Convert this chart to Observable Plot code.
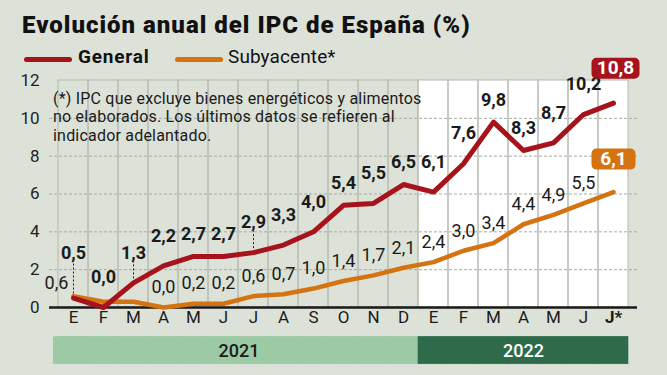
<!DOCTYPE html>
<html><head><meta charset="utf-8">
<script src="https://cdn.jsdelivr.net/npm/d3@7"></script>
<script src="https://cdn.jsdelivr.net/npm/@observablehq/plot@0.6"></script>
<style>
html,body{margin:0;padding:0;background:#dde2d9;}
#wrap{position:relative;width:667px;height:375px;overflow:hidden;font-family:Roboto,"Noto Sans",sans-serif;color:#111;}
#chart{position:absolute;left:0;top:0;}
#title{position:absolute;left:22px;top:13px;font-size:24px;line-height:24px;font-weight:900;letter-spacing:1px;white-space:nowrap;}
.leg{position:absolute;top:47px;font-size:19px;line-height:19px;white-space:nowrap;}
.sw{position:absolute;top:57px;height:4.5px;width:48px;border-radius:3px;}
#note{position:absolute;left:53px;top:89.5px;font-size:16px;line-height:18.5px;letter-spacing:0.2px;color:#1a1a1a;}
</style></head>
<body><div id="wrap">
<div id="chart"></div>
<div id="title"></div>
<div class="sw" id="sw1" style="left:24px"></div><div class="leg" id="leg1" style="left:78px;font-weight:bold;letter-spacing:0.8px"></div>
<div class="sw" id="sw2" style="left:175px"></div><div class="leg" id="leg2" style="left:228px;letter-spacing:0.1px"></div>
<div id="note"></div>
</div>
<script>
const titleText = "Evolución anual del IPC de España (%)";
const seriesNames = ["General", "Subyacente*"];
const noteLines = ["(*) IPC que excluye bienes energéticos y alimentos", "no elaborados. Los últimos datos se refieren al", "indicador adelantado."];
const months = ["E","F","M","A","M","J","J","A","S","O","N","D","E","F","M","A","M","J","J*"];
const general = [0.5,0.0,1.3,2.2,2.7,2.7,2.9,3.3,4.0,5.4,5.5,6.5,6.1,7.6,9.8,8.3,8.7,10.2,10.8];
const subyacente = [0.6,0.3,0.3,0.0,0.2,0.2,0.6,0.7,1.0,1.4,1.7,2.1,2.4,3.0,3.4,4.4,4.9,5.5,6.1];
const subLabelHidden = [1, 2];
const leaderMonths = [0, 2, 6];
const years = ["2021", "2022"];
const yearMonthCount = [12, 7];
const yTicks = [0,2,4,6,8,10,12];

const RED = "#a6131b", ORANGE = "#d4730f", INK = "#1a1a1a";
const YEAR_COLORS = ["#9ccaa4", "#2e6b4b"];

document.getElementById("title").textContent = titleText;
document.getElementById("leg1").textContent = seriesNames[0];
document.getElementById("leg2").textContent = seriesNames[1];
document.getElementById("sw1").style.background = RED;
document.getElementById("sw2").style.background = ORANGE;
document.getElementById("note").innerHTML = noteLines.join("<br>");

const yearOf = [];
years.forEach((y, k) => { for (let j = 0; j < yearMonthCount[k]; j++) yearOf.push(y); });
const rows = months.map((m, i) => ({i, m, g: general[i], s: subyacente[i], year: yearOf[i]}));
const last = rows.length - 1;
const fmt = v => v.toFixed(1).replace(".", ",");

const W = 667, H = 375, ML = 49, MR = 30, MT = 80, MB = 68;
const bw = (W - ML - MR) / months.length;

// label lift: rising segment ahead or leader line -> higher
const lift = d => d.i === 0 ? -45 : ((leaderMonths.includes(d.i) || (d.i < last && general[d.i + 1] - d.g >= 0.5)) ? -30 : -22);

const badge = (w, h, r) => ({draw(ctx) {
  const x0 = -w/2, y0 = -h/2, x1 = w/2, y1 = h/2;
  ctx.moveTo(x0 + r, y0); ctx.lineTo(x1 - r, y0); ctx.arcTo(x1, y0, x1, y0 + r, r);
  ctx.lineTo(x1, y1 - r); ctx.arcTo(x1, y1, x1 - r, y1, r);
  ctx.lineTo(x0 + r, y1); ctx.arcTo(x0, y1, x0, y1 - r, r);
  ctx.lineTo(x0, y0 + r); ctx.arcTo(x0, y0, x0 + r, y0, r); ctx.closePath();
}});

const yearLabels = years.map((y, k) => {
  const start = yearMonthCount.slice(0, k).reduce((a, b) => a + b, 0);
  const mid = start + (yearMonthCount[k] - 1) / 2;
  return {year: y, i: Math.floor(mid), frac: mid - Math.floor(mid), k};
});

const FF = "Roboto, sans-serif";
const labelStyle = {fontSize: 18, fill: INK, fontFamily: FF};

const marks = [
  Plot.barY(rows.filter(d => d.year === years[1]), {x: "i", y1: 0, y2: 12, fill: "white", inset: 0}),
  Plot.ruleY(yTicks.filter(t => t > 0 && t < 12), {y: d => d, stroke: "#a7aba3", strokeDasharray: "3,2", strokeWidth: 1}),
  Plot.barY(rows, {x: "i", y1: 0, y2: 12, fill: "none", stroke: "#b6bab1", strokeWidth: 1, inset: 0}),
  // year bands
  Plot.barY(rows, {x: "i", y1: -1.55, y2: -3.0, fill: "year", stroke: "year", strokeWidth: 0.6, inset: 0}),
  Plot.barY(rows.filter(d => d.i === 0), {x: "i", y1: -1.55, y2: -3.0, fill: "year", inset: 0, insetLeft: -5}),
  Plot.text(yearLabels, {x: "i", y: -2.32, text: "year", fontSize: 18, fontWeight: 500,
    fill: d => d.k === 0 ? INK : "white", fontFamily: FF}),
  Plot.ruleY([0], {stroke: INK, strokeWidth: 2.5}),
  // leaders
  Plot.ruleX(rows.filter(d => leaderMonths.includes(d.i)), {x: "i", y1: "g", y2: d => d.g + (d.i === 0 ? 1.9 : 1.1), stroke: INK, strokeWidth: 1, strokeDasharray: "2,2"}),
  // lines
  Plot.lineY(rows, {x: "i", y: "s", stroke: ORANGE, strokeWidth: 4.5, strokeLinejoin: "round"}),
  Plot.lineY(rows, {x: "i", y: "g", stroke: RED, strokeWidth: 5, strokeLinejoin: "round"}),
  // general labels
  ...[-45, -30, -22].map(off => Plot.text(rows.filter(d => d.i !== last && lift(d) === off),
    {x: "i", y: "g", text: d => fmt(d.g), dy: off, fontWeight: "bold", ...labelStyle})),
  // subyacente labels
  Plot.text(rows.filter(d => d.i !== 0 && d.i !== last && !subLabelHidden.includes(d.i)),
    {x: "i", y: "s", text: d => fmt(d.s), dy: -20, ...labelStyle}),
  Plot.text(rows.filter(d => d.i === 0), {x: "i", y: "s", text: d => fmt(d.s), dx: -17, dy: -13, ...labelStyle}),
  // badges
  Plot.dot(rows.filter(d => d.i === last), {x: "i", y: "g", symbol: badge(48, 21, 5), r: 5, fill: RED, stroke: null, dx: 2, dy: -35}),
  Plot.text(rows.filter(d => d.i === last), {x: "i", y: "g", text: d => fmt(d.g), dx: 2, dy: -35, fontSize: 19, fontWeight: "bold", fill: "white", fontFamily: FF}),
  Plot.dot(rows.filter(d => d.i === last), {x: "i", y: "s", symbol: badge(44, 21, 5), r: 5, fill: ORANGE, stroke: null, dx: 0, dy: -33}),
  Plot.text(rows.filter(d => d.i === last), {x: "i", y: "s", text: d => fmt(d.s), dx: 0, dy: -33, fontSize: 19, fontWeight: "bold", fill: "white", fontFamily: FF}),
  // x labels
  Plot.text(rows.filter(d => d.i !== last), {x: "i", frameAnchor: "bottom", text: "m", dy: 15, fontSize: 17, fill: INK, fontFamily: FF}),
  Plot.text(rows.filter(d => d.i === last), {x: "i", frameAnchor: "bottom", text: "m", dy: 15, fontSize: 17, fontWeight: "bold", fill: INK, fontFamily: FF}),
  // y labels
  Plot.text(yTicks, {y: d => d, frameAnchor: "left", text: d => String(d), dx: -10, textAnchor: "end", fontSize: 17, fill: "#222", fontFamily: FF})
];

const chart = Plot.plot({
  width: W, height: H, marginLeft: ML, marginRight: MR, marginTop: MT, marginBottom: MB,
  style: {background: "transparent", fontFamily: FF, overflow: "visible"},
  x: {type: "band", domain: rows.map(d => d.i), padding: 0, axis: null},
  y: {domain: [0, 12], axis: null},
  color: {domain: years, range: YEAR_COLORS},
  marks
});
document.getElementById("chart").appendChild(chart);

// center year labels between months (half-band shift)
chart.querySelectorAll("text").forEach(t => {
  const k = years.indexOf(t.textContent);
  if (k >= 0) {
    const yl = yearLabels[k];
    const cur = t.getAttribute("transform") || "";
    t.setAttribute("transform", cur + ` translate(${yl.frac * bw},0)`);
  }
});
</script>
</body></html>
